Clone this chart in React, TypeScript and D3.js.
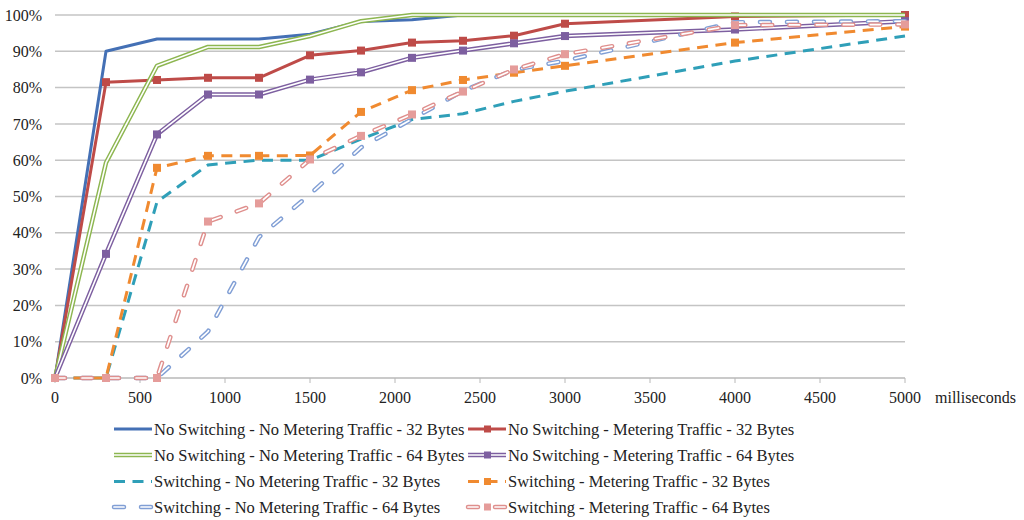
import React, { useEffect } from 'react';
import * as d3 from 'd3';

// x values (milliseconds)
const times = [0, 300, 600, 900, 1200, 1500, 1800, 2100, 2400, 2700, 3000, 4000, 5000];

// percent delivered per series
const noSwNoMet32 = [0, 90, 93.4, 93.4, 93.4, 94.7, 98.2, 98.7, 100, 100, 100, 100, 100];
const noSwMet32 = [0, 81.5, 82.1, 82.7, 82.7, 88.9, 90.2, 92.4, 92.9, 94.3, 97.6, 99.6, 100];
const noSwNoMet64 = [0, 59.3, 86, 91.2, 91.2, 94.2, 98.3, 100, 100, 100, 100, 100, 100];
const noSwMet64 = [0, 34.2, 67.1, 78.1, 78.1, 82.2, 84.2, 88.2, 90.2, 92.2, 94.2, 96.0, 98.3];
const swNoMet32 = [0, 0, 48.5, 58.7, 60, 60, 65.8, 71.2, 72.8, 76.2, 79, 87.3, 94.2];
const swMet32 = [0, 0, 57.9, 61.2, 61.2, 61.3, 73.3, 79.3, 82.1, 84.1, 86, 92.4, 96.8];
const swNoMet64 = [0, 0, 0, 12.8, 38.8, 50.6, 63.5, 71.3, 79.1, 84.9, 87.4, 98, 98.3];
const swMet64 = [0, 0, 0, 43.1, 48.1, 60.2, 66.7, 72.6, 78.9, 85, 89.2, 97.2, 97.4];

const xTicks = [0, 500, 1000, 1500, 2000, 2500, 3000, 3500, 4000, 4500, 5000];
const yTicks = [0, 10, 20, 30, 40, 50, 60, 70, 80, 90, 100];

type Style = 'solid' | 'double' | 'dash' | 'capsule';

const series: { name: string; values: number[]; color: string; style: Style; marker: boolean; markerColor?: string }[] = [
    { name: 'No Switching - No Metering Traffic - 32 Bytes', values: noSwNoMet32, color: '#4470B5', style: 'solid', marker: false },
    { name: 'No Switching - Metering Traffic - 32 Bytes', values: noSwMet32, color: '#BE4B48', style: 'solid', marker: true },
    { name: 'No Switching - No Metering Traffic - 64 Bytes', values: noSwNoMet64, color: '#8DB650', style: 'double', marker: false },
    { name: 'No Switching - Metering Traffic - 64 Bytes', values: noSwMet64, color: '#7D5FA0', style: 'double', marker: true },
    { name: 'Switching - No Metering Traffic - 32 Bytes', values: swNoMet32, color: '#2F9FB8', style: 'dash', marker: false },
    { name: 'Switching - Metering Traffic - 32 Bytes', values: swMet32, color: '#F08A30', style: 'dash', marker: true },
    { name: 'Switching - No Metering Traffic - 64 Bytes', values: swNoMet64, color: '#819FD5', style: 'capsule', marker: false },
    { name: 'Switching - Metering Traffic - 64 Bytes', values: swMet64, color: '#DF8F8D', style: 'capsule', marker: true, markerColor: '#E59C9A' },
];

const FONT = "'Liberation Serif', 'DejaVu Serif', serif";

const Stroke: React.FC<{ d: string; color: string; style: Style }> = ({ d, color, style }) => {
    if (style === 'solid') {
        return <path d={d} fill="none" stroke={color} strokeWidth={3} strokeLinejoin="round" />;
    }
    if (style === 'double') {
        return (
            <g>
                <path d={d} fill="none" stroke={color} strokeWidth={4.5} strokeLinejoin="round" />
                <path d={d} fill="none" stroke="#fff" strokeWidth={1.6} strokeLinejoin="round" />
            </g>
        );
    }
    if (style === 'dash') {
        return <path d={d} fill="none" stroke={color} strokeWidth={3} strokeDasharray="11,7.5" />;
    }
    return (
        <g>
            <path d={d} fill="none" stroke={color} strokeWidth={4.5} strokeDasharray="10,17" strokeLinecap="round" />
            <path d={d} fill="none" stroke="#fff" strokeWidth={1.7} strokeDasharray="10,17" strokeLinecap="round" />
        </g>
    );
};

const App: React.FC = () => {
    useEffect(() => {
        document.body.style.margin = '0';
    }, []);

    const x = d3.scaleLinear().domain([0, 5000]).range([55, 905]);
    const y = d3.scaleLinear().domain([0, 100]).range([378, 15]);

    const line = d3.line<number>()
        .x((_, i) => x(times[i]))
        .y(v => y(v));

    const legendRows = [429, 455, 481.5, 507];
    const legendCols = [114, 468];
    const txt = { fontFamily: FONT, fill: '#222' };

    return (
        <svg width={1024} height={520} style={{ display: 'block', fontFamily: FONT }}>
            <rect width={1024} height={520} fill="#fff" />
            {yTicks.map(t => (
                <g key={t}>
                    {t > 0 && <line x1={x(0)} x2={x(5000)} y1={y(t)} y2={y(t)} stroke="#C4C4C4" strokeWidth={1.5} />}
                    <text x={42} y={y(t)} dy="0.35em" textAnchor="end" fontSize={16} style={txt}>{t}%</text>
                </g>
            ))}
            <line x1={x(0)} x2={x(5000)} y1={y(0)} y2={y(0)} stroke="#B8B8B8" strokeWidth={1.5} />
            {xTicks.map(t => (
                <g key={t}>
                    <line x1={x(t)} x2={x(t)} y1={y(0)} y2={y(0) + 5} stroke="#B8B8B8" strokeWidth={1} />
                    <text x={x(t)} y={403} textAnchor="middle" fontSize={16} style={txt}>{t}</text>
                </g>
            ))}
            <text x={935} y={403} fontSize={16} style={txt}>milliseconds</text>

            {series.map(s => (
                <g key={s.name}>
                    <Stroke d={line(s.values) || ''} color={s.color} style={s.style} />
                    {s.marker && s.values.map((v, i) => (
                        <rect key={i} x={x(times[i]) - 4} y={y(v) - 4} width={8} height={8}
                            fill={s.markerColor || s.color} />
                    ))}
                </g>
            ))}

            {series.map((s, i) => {
                const cx = legendCols[i % 2];
                const cy = legendRows[Math.floor(i / 2)];
                return (
                    <g key={'lg' + s.name}>
                        <Stroke d={`M${cx},${cy}L${cx + 38},${cy}`} color={s.color} style={s.style} />
                        {s.marker && <rect x={cx + 16} y={cy - 3.5} width={7} height={7} fill={s.markerColor || s.color} />}
                        <text x={cx + 40} y={cy} dy="0.35em" fontSize={16.5} style={txt}>{s.name}</text>
                    </g>
                );
            })}
        </svg>
    );
};

export default App;
